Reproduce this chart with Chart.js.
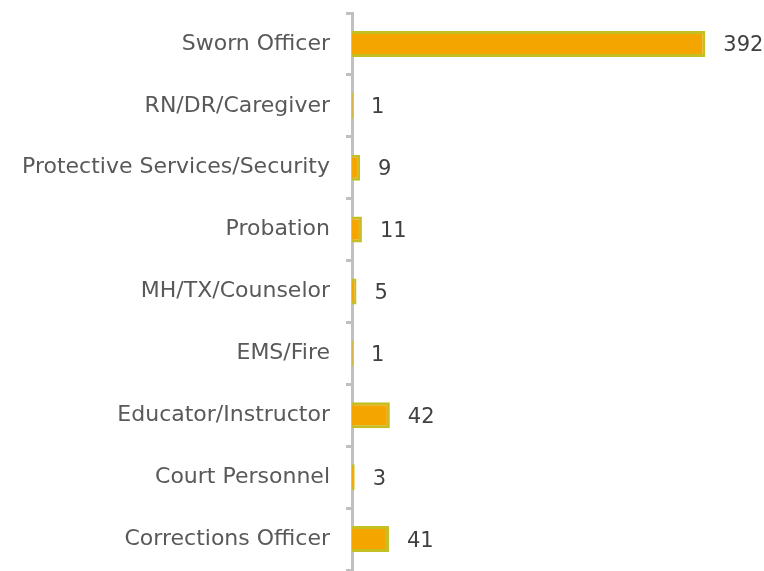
<!DOCTYPE html>
<html>
<head>
<meta charset="utf-8">
<script src="https://cdn.jsdelivr.net/npm/chart.js@4"></script>
<style>
  html, body { margin: 0; padding: 0; background: #fff; }
  #caja { width: 764px; height: 571px; position: relative; }
</style>
</head>
<body>
<div id="caja"><canvas id="grafico"></canvas></div>
<script>
let categorias = ['Sworn Officer', 'RN/DR/Caregiver', 'Protective Services/Security', 'Probation',
  'MH/TX/Counselor', 'EMS/Fire', 'Educator/Instructor', 'Court Personnel', 'Corrections Officer']
let valores = [392, 1, 9, 11, 5, 1, 42, 3, 41]

let fuente = 'DejaVu Sans'

// etiquetas con el valor al final de cada barra
let etiquetasValor = {
  id: 'etiquetasValor',
  afterDatasetsDraw(chart){
    let ctx = chart.ctx
    let meta = chart.getDatasetMeta(0)
    ctx.save()
    ctx.font = '21px "' + fuente + '"'
    ctx.fillStyle = '#404040'
    ctx.textBaseline = 'middle'
    ctx.textAlign = 'left'
    meta.data.forEach((barra, i)=>{
      ctx.fillText(String(valores[i]), barra.x + 18, barra.y + 2)
    })
    ctx.restore()
  }
}

let grafico = document.getElementById('grafico').getContext('2d')

new Chart(grafico, {
  type: 'bar',
  data: {
    labels: categorias,
    datasets: [{
      data: valores,
      backgroundColor: '#F5A500',
      borderColor: '#C4C024',
      borderWidth: 3,
      borderSkipped: 'start',
      categoryPercentage: 0.84,
      barPercentage: 0.5
    }]
  },
  options: {
    indexAxis: 'y',
    responsive: true,
    maintainAspectRatio: false,
    animation: false,
    layout: { padding: { top: 13, bottom: 1, right: 10, left: 0 } },
    plugins: {
      legend: { display: false },
      tooltip: { enabled: false }
    },
    scales: {
      x: {
        display: false,
        min: 0,
        max: 446
      },
      y: {
        z: 1,
        afterFit(scale){
          scale.width = 352
          scale.paddingTop = 0
          scale.paddingBottom = 0
        },
        grid: {
          offset: true,
          drawOnChartArea: false,
          drawTicks: true,
          tickLength: 6,
          color: '#C0C0C0',
          lineWidth: 3
        },
        border: { color: '#C0C0C0', width: 3 },
        ticks: {
          color: '#595959',
          padding: 16,
          font: { family: fuente, size: 22 }
        }
      }
    }
  },
  plugins: [etiquetasValor]
})
</script>
</body>
</html>
